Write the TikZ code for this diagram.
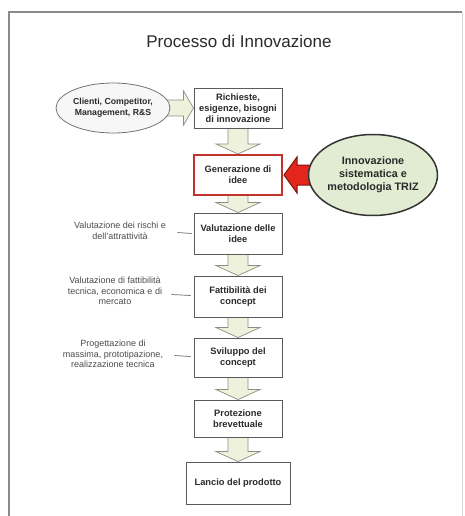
\documentclass[tikz,border=0pt]{standalone}
\usepackage{fontspec}
\setmainfont{Liberation Sans}
\usetikzlibrary{calc,backgrounds,shapes.geometric}
\definecolor{txt}{HTML}{2A2A2A}
\definecolor{boxline}{HTML}{5A5A5A}
\definecolor{arrfill}{HTML}{EEF1DC}
\definecolor{arrline}{HTML}{8E8E84}
\definecolor{trizfill}{HTML}{E2ECD2}
\definecolor{redfill}{HTML}{E2261B}
\definecolor{redline}{HTML}{7A1410}
\definecolor{genline}{HTML}{C2322A}
\definecolor{frameline}{HTML}{8A8A8A}
\newcommand\dnarr[2]{%
  \filldraw[barrow] ($(#1.south)+(-10,-1)$) -- ($(#1.south)+(10,-1)$) -- ($(#2.north)+(10,-10)$) -- ($(#2.north)+(22,-10)$) -- (#2.north) -- ($(#2.north)+(-22,-10)$) -- ($(#2.north)+(-10,-10)$) -- cycle;}
\begin{document}
\begin{tikzpicture}[x=1pt,y=-1pt,
  stepbox/.style={draw=boxline,line width=0.9pt,fill=white,rectangle,minimum width=88pt,inner sep=0pt,align=center,font=\fontsize{9.3}{11}\selectfont\bfseries,text=txt},
  lab/.style={align=center,font=\fontsize{9}{10.5}\selectfont,text=txt!85},
  conn/.style={draw=txt!70,line width=0.7pt},
  barrow/.style={fill=arrfill,draw=arrline,line width=0.7pt,line join=miter}]
\useasboundingbox (0,0) rectangle (465,516);
% frame
\draw[frameline,line width=1.3pt] (9,516) -- (9,12) -- (462,12);
\draw[black!15,line width=0.8pt] (462,12) -- (462,516);
% title
\node[font=\fontsize{17}{20}\selectfont,text=txt] (title) at (239,41) {Processo di Innovazione};
% boxes
\node[stepbox,minimum height=40pt] (rich) at (238,108) {Richieste,\\esigenze, bisogni\\di innovazione};
\node[stepbox,minimum height=40pt,draw=genline,line width=2pt] (gen) at (238,175) {Generazione di\\idee};
\node[stepbox,minimum height=41pt] (val) at (238,233.5) {Valutazione delle\\idee};
\node[stepbox,minimum height=41pt] (fat) at (238,296.5) {Fattibilità dei\\concept};
\node[stepbox,minimum height=39pt] (svi) at (238,357.5) {Sviluppo del\\concept};
\node[stepbox,minimum height=37pt] (pro) at (238,418.5) {Protezione\\brevettuale};
\node[stepbox,minimum height=42pt,minimum width=104pt] (lan) at (238,483) {Lancio del prodotto};
% ellipses
\node[ellipse,draw=black!55,line width=0.8pt,fill=black!3,minimum width=114pt,minimum height=50pt,inner sep=0pt,align=center,font=\fontsize{8.7}{10.5}\selectfont\bfseries,text=txt] (cli) at (113,108) {Clienti, Competitor,\\Management, R\&S};
\node[ellipse,draw=black!80,line width=1.5pt,fill=trizfill,minimum width=127pt,minimum height=81pt,inner sep=0pt,align=center,font=\fontsize{10.8}{13}\selectfont\bfseries,text=txt] (triz) at (373,175) {Innovazione\\sistematica e\\metodologia TRIZ};
% side labels
\node[lab] (l1) at (120,231) {Valutazione dei rischi e\\dell'attrattività};
\node[lab] (l2) at (115,291) {Valutazione di fattibilità\\tecnica, economica e di\\mercato};
\node[lab] (l3) at (113,354) {Progettazione di\\massima, prototipazione,\\realizzazione tecnica};
\draw[conn] ($(val.west)+(-16,-1)$) -- ($(val.west)+(-2,0)$);
\draw[conn] ($(fat.west)+(-22,-2)$) -- ($(fat.west)+(-3,-1)$);
\draw[conn] ($(svi.west)+(-19,-2)$) -- ($(svi.west)+(-3,-1)$);
% arrows
\begin{pgfonlayer}{background}
\filldraw[barrow] ($(cli.east)+(-4,-8)$) -- ($(rich.west)+(-10,-8)$) -- ($(rich.west)+(-10,-17)$) -- (rich.west) -- ($(rich.west)+(-10,17)$) -- ($(rich.west)+(-10,8)$) -- ($(cli.east)+(-4,8)$) -- cycle;
\dnarr{rich}{gen}
\dnarr{gen}{val}
\dnarr{val}{fat}
\dnarr{fat}{svi}
\dnarr{svi}{pro}
\dnarr{pro}{lan}
\filldraw[fill=redfill,draw=redline,line width=1pt,line join=miter] ($(triz.west)+(4,-10)$) -- ($(gen.east)+(14,-10)$) -- ($(gen.east)+(14,-18)$) -- ($(gen.east)+(1,0)$) -- ($(gen.east)+(14,18)$) -- ($(gen.east)+(14,10)$) -- ($(triz.west)+(4,10)$) -- cycle;
\end{pgfonlayer}
\end{tikzpicture}
\end{document}
